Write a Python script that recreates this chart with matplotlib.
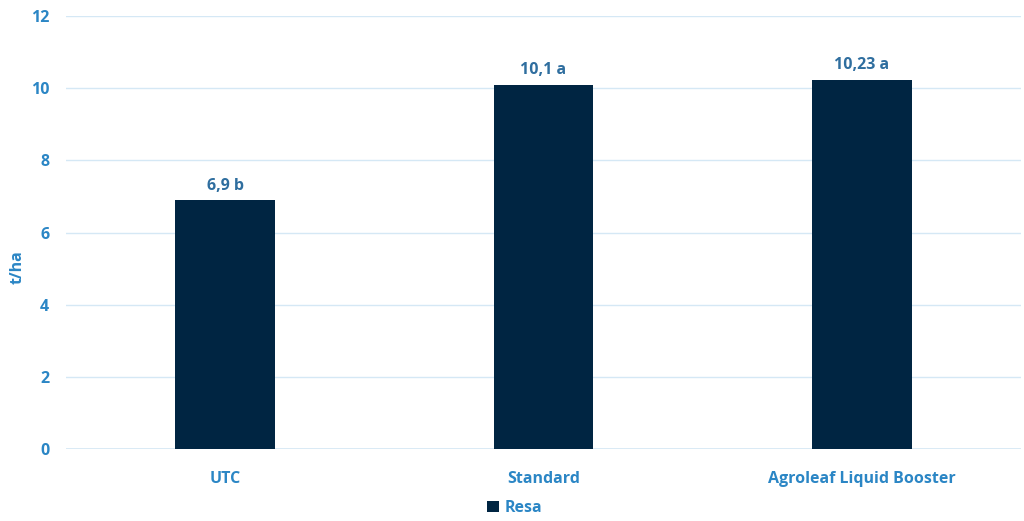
import matplotlib.pyplot as plt

CATEGORIES = ['UTC', 'Standard', 'Agroleaf Liquid Booster']
RESA = [6.9, 10.1, 10.23]
LABELS = ['6,9 b', '10,1 a', '10,23 a']
Y_TICKS = [0, 2, 4, 6, 8, 10, 12]

BAR_COLOUR = '#002542'
TICK_COLOUR = '#2b86c5'
LABEL_COLOUR = '#2f6e9f'
GRID_COLOUR = '#d5e8f5'

plt.rcParams['font.family'] = ['Open Sans', 'DejaVu Sans']

fig = plt.figure(figsize=(10.24, 5.21), dpi=100)
ax = fig.add_axes([66 / 1024, 1 - 449 / 521, (1021 - 66) / 1024, (449 - 16) / 521])

x = list(range(len(CATEGORIES)))
bars = ax.bar(x, RESA, width=0.314, color=BAR_COLOUR, label='Resa', zorder=3)

for i in range(len(x)):
    ax.text(x[i], RESA[i] + 0.18, LABELS[i], ha='center', va='bottom',
            fontsize=11.5, fontweight='bold', color=LABEL_COLOUR)

ax.set_xlim(-0.5, len(x) - 0.5)
ax.set_ylim(0, 12)
ax.set_yticks(Y_TICKS)
ax.set_xticks(x)
ax.set_xticklabels(CATEGORIES)
ax.grid(axis='y', color=GRID_COLOUR, linewidth=1, zorder=0)
for s in ax.spines.values():
    s.set_visible(False)
ax.axhline(0, color=GRID_COLOUR, linewidth=1.2, zorder=1)
ax.tick_params(length=0, labelsize=11.5, labelcolor=TICK_COLOUR)
ax.tick_params(axis='x', pad=16)
ax.tick_params(axis='y', pad=12)
for t in ax.get_xticklabels() + ax.get_yticklabels():
    t.set_fontweight('bold')

ax.set_ylabel('t/ha', fontsize=11.5, fontweight='bold', color=TICK_COLOUR)
ax.yaxis.set_label_coords(-0.042, 0.42)

leg = fig.legend(handles=[bars], labels=['Resa'], loc='center', bbox_to_anchor=(515 / 1024, 1 - 508 / 521),
                 frameon=False, handlelength=0.7, handleheight=0.7, handletextpad=0.4,
                 prop={'weight': 'bold', 'size': 11.5})
for t in leg.get_texts():
    t.set_color(TICK_COLOUR)

fig.savefig('out.png', dpi=100)
